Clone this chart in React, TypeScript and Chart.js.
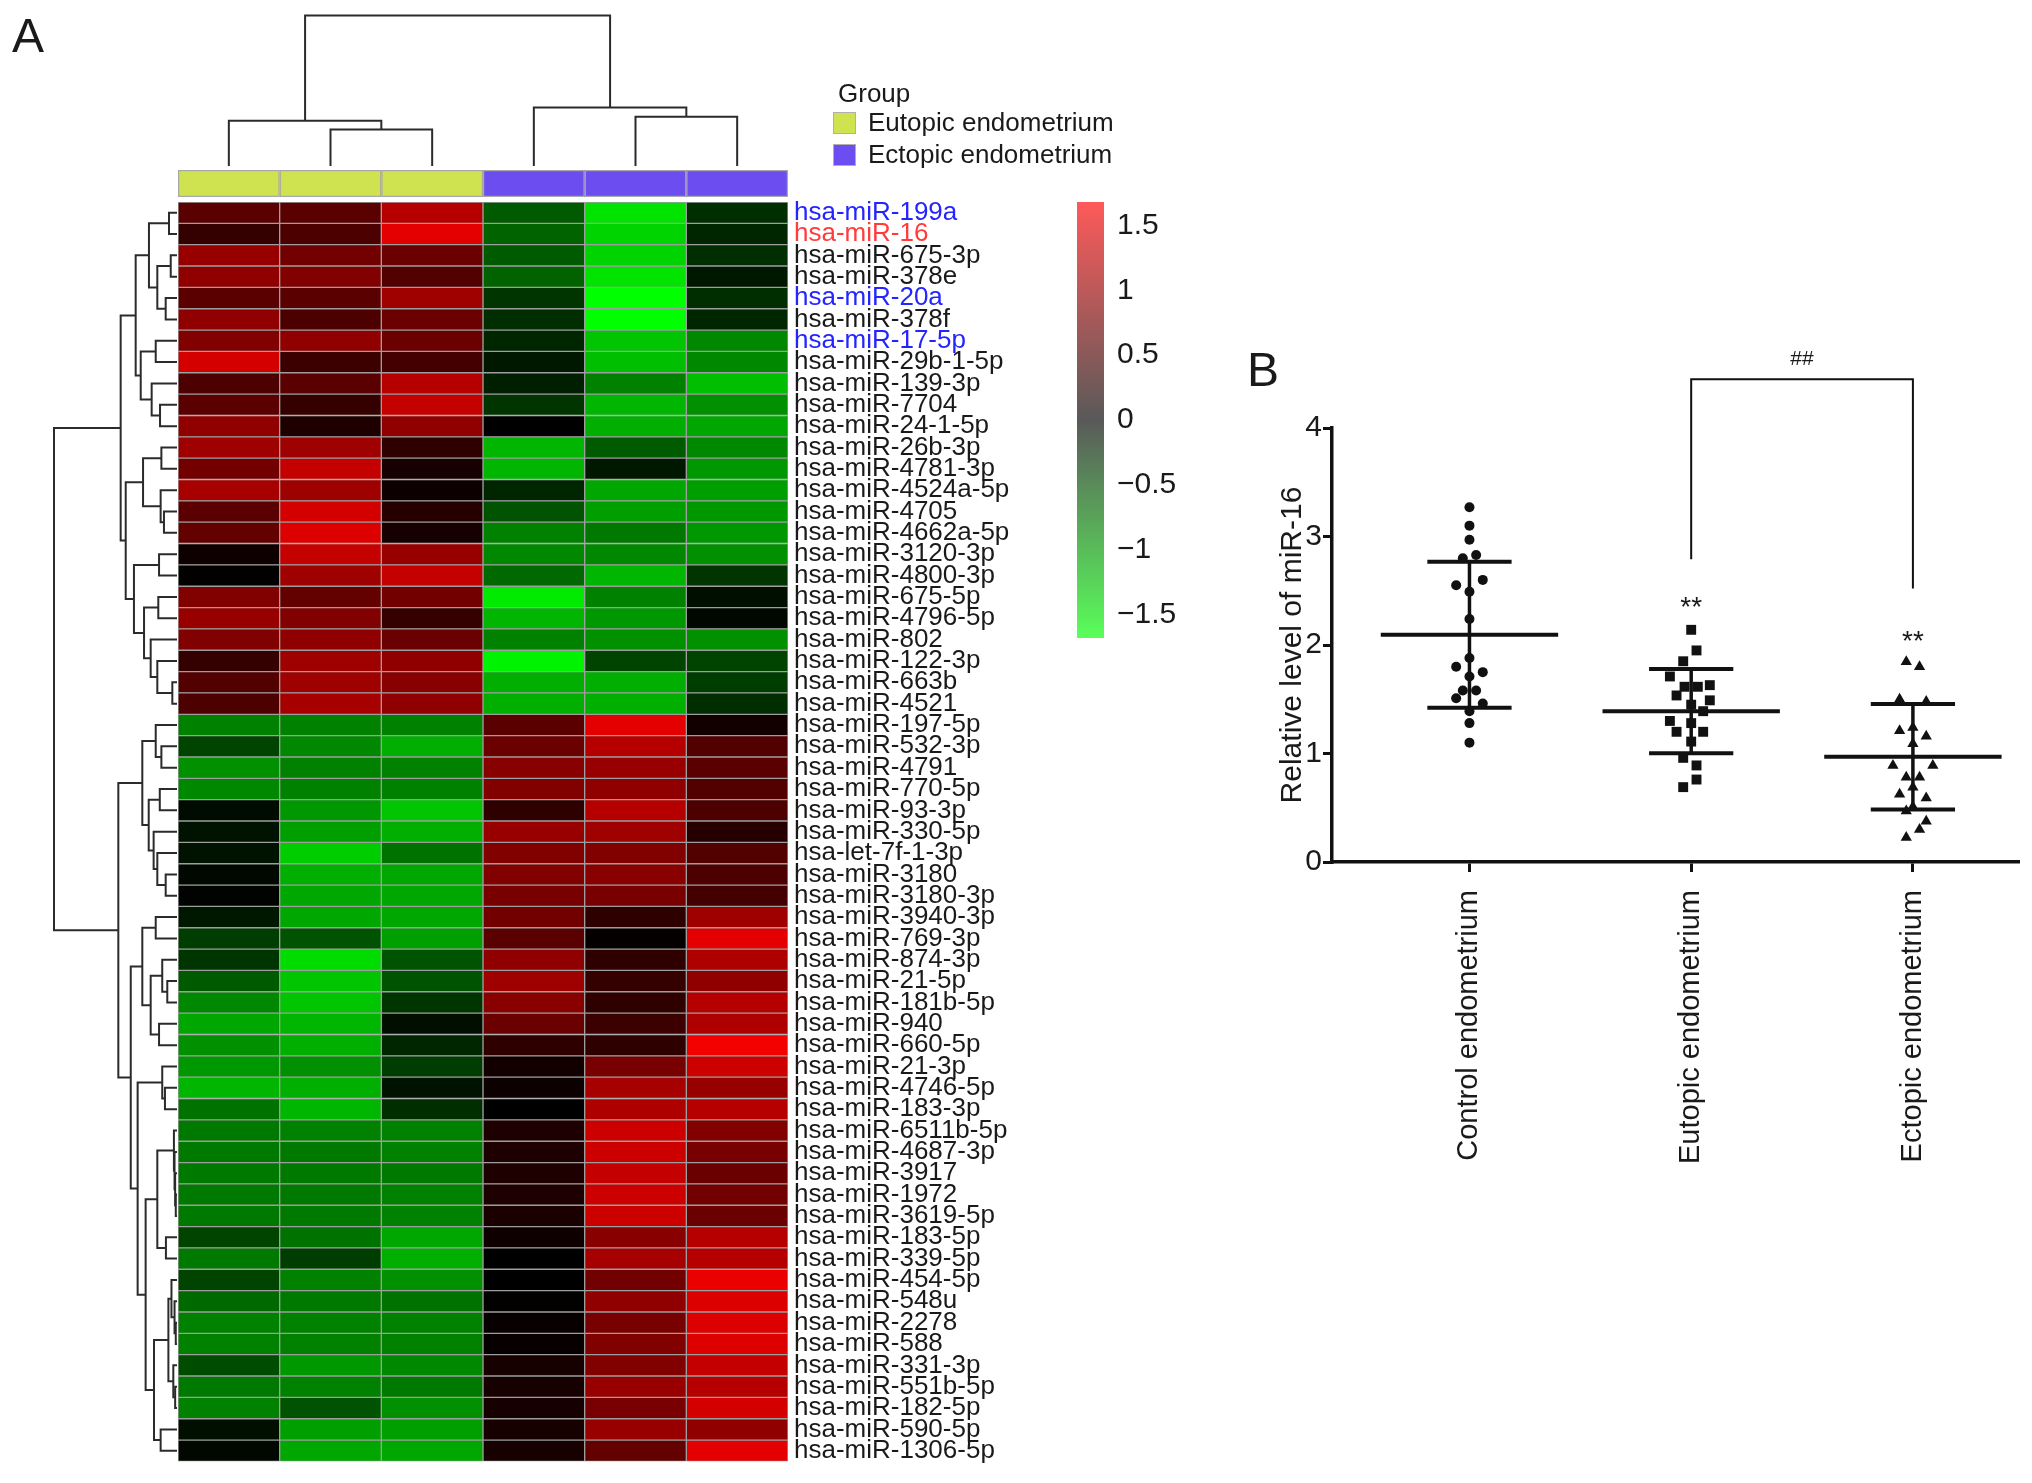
import React, { useEffect, useRef } from "react";
import { Chart, registerables } from "chart.js";

Chart.register(...registerables);

const FONT = "'Liberation Sans', Arial, Helvetica, sans-serif";
Chart.defaults.font.family = FONT;
Chart.defaults.color = "#1a1a1a";

// ---------------- Panel A data ----------------
const mirnaLabels = [
  "hsa-miR-199a", "hsa-miR-16", "hsa-miR-675-3p", "hsa-miR-378e", "hsa-miR-20a",
  "hsa-miR-378f", "hsa-miR-17-5p", "hsa-miR-29b-1-5p", "hsa-miR-139-3p", "hsa-miR-7704",
  "hsa-miR-24-1-5p", "hsa-miR-26b-3p", "hsa-miR-4781-3p", "hsa-miR-4524a-5p", "hsa-miR-4705",
  "hsa-miR-4662a-5p", "hsa-miR-3120-3p", "hsa-miR-4800-3p", "hsa-miR-675-5p", "hsa-miR-4796-5p",
  "hsa-miR-802", "hsa-miR-122-3p", "hsa-miR-663b", "hsa-miR-4521", "hsa-miR-197-5p",
  "hsa-miR-532-3p", "hsa-miR-4791", "hsa-miR-770-5p", "hsa-miR-93-3p", "hsa-miR-330-5p",
  "hsa-let-7f-1-3p", "hsa-miR-3180", "hsa-miR-3180-3p", "hsa-miR-3940-3p", "hsa-miR-769-3p",
  "hsa-miR-874-3p", "hsa-miR-21-5p", "hsa-miR-181b-5p", "hsa-miR-940", "hsa-miR-660-5p",
  "hsa-miR-21-3p", "hsa-miR-4746-5p", "hsa-miR-183-3p", "hsa-miR-6511b-5p", "hsa-miR-4687-3p",
  "hsa-miR-3917", "hsa-miR-1972", "hsa-miR-3619-5p", "hsa-miR-183-5p", "hsa-miR-339-5p",
  "hsa-miR-454-5p", "hsa-miR-548u", "hsa-miR-2278", "hsa-miR-588", "hsa-miR-331-3p",
  "hsa-miR-551b-5p", "hsa-miR-182-5p", "hsa-miR-590-5p", "hsa-miR-1306-5p",
];
const blueLabels = ["hsa-miR-199a", "hsa-miR-20a", "hsa-miR-17-5p"];
const redLabels = ["hsa-miR-16"];

const sampleGroups = [
  "Eutopic endometrium", "Eutopic endometrium", "Eutopic endometrium",
  "Ectopic endometrium", "Ectopic endometrium", "Ectopic endometrium",
];
const groupNames = ["Eutopic endometrium", "Ectopic endometrium"];

const heatmapValues = [
  [0.6, 0.6, 1.2, -0.6, -1.5, -0.3],
  [0.35, 0.5, 1.5, -0.65, -1.4, -0.25],
  [1.0, 0.75, 0.7, -0.6, -1.4, -0.3],
  [0.95, 0.85, 0.55, -0.65, -1.5, -0.15],
  [0.6, 0.6, 1.05, -0.35, -1.7, -0.3],
  [0.95, 0.5, 0.7, -0.3, -1.7, -0.25],
  [0.85, 0.95, 0.7, -0.25, -1.3, -0.9],
  [1.4, 0.4, 0.45, -0.15, -1.25, -0.9],
  [0.5, 0.6, 1.2, -0.2, -0.85, -1.25],
  [0.6, 0.35, 1.3, -0.35, -1.2, -0.95],
  [0.95, 0.2, 0.95, 0.0, -1.15, -1.1],
  [1.05, 1.05, 0.3, -1.2, -0.6, -0.9],
  [0.75, 1.3, 0.15, -1.2, -0.15, -1.0],
  [1.1, 1.05, 0.08, -0.25, -1.1, -1.05],
  [0.6, 1.4, 0.25, -0.55, -1.05, -1.0],
  [0.65, 1.45, 0.15, -0.85, -0.8, -1.0],
  [0.1, 1.3, 1.0, -0.9, -0.9, -0.95],
  [0.02, 1.05, 1.3, -0.7, -1.2, -0.35],
  [0.85, 0.65, 0.75, -1.55, -0.85, -0.1],
  [1.0, 0.85, 0.35, -1.2, -1.0, -0.05],
  [0.85, 0.95, 0.7, -0.85, -0.95, -0.95],
  [0.35, 1.05, 0.95, -1.6, -0.45, -0.45],
  [0.55, 1.05, 0.9, -1.15, -1.15, -0.4],
  [0.5, 1.1, 0.95, -1.15, -1.15, -0.3],
  [-0.85, -0.85, -0.85, 0.6, 1.5, 0.12],
  [-0.45, -0.9, -1.15, 0.7, 1.2, 0.55],
  [-0.95, -0.85, -0.85, 0.9, 1.0, 0.6],
  [-0.9, -0.85, -0.85, 0.85, 0.95, 0.55],
  [-0.08, -1.0, -1.3, 0.3, 1.2, 0.5],
  [-0.12, -1.05, -1.15, 1.0, 1.05, 0.25],
  [-0.12, -1.35, -0.75, 0.85, 0.85, 0.55],
  [-0.05, -1.15, -1.1, 0.85, 0.9, 0.5],
  [-0.02, -1.1, -1.1, 0.8, 0.8, 0.45],
  [-0.15, -1.1, -1.1, 0.75, 0.3, 1.05],
  [-0.4, -0.55, -1.05, 0.6, 0.03, 1.5],
  [-0.35, -1.45, -0.55, 0.95, 0.3, 1.15],
  [-0.6, -1.3, -0.55, 1.05, 0.35, 0.95],
  [-0.9, -1.3, -0.35, 0.9, 0.3, 1.2],
  [-1.1, -1.2, -0.1, 0.7, 0.4, 1.15],
  [-0.95, -1.15, -0.25, 0.3, 0.3, 1.6],
  [-1.0, -0.95, -0.4, 0.12, 0.8, 1.35],
  [-1.2, -1.15, -0.12, 0.08, 1.1, 1.0],
  [-0.75, -1.2, -0.3, 0.0, 1.15, 1.2],
  [-0.8, -0.85, -0.85, 0.2, 1.35, 0.85],
  [-0.8, -0.8, -0.85, 0.2, 1.35, 0.8],
  [-0.8, -0.8, -0.8, 0.2, 1.3, 0.7],
  [-0.8, -0.8, -0.85, 0.2, 1.35, 0.75],
  [-0.8, -0.8, -0.85, 0.18, 1.35, 0.7],
  [-0.45, -0.75, -1.1, 0.1, 0.9, 1.2],
  [-0.8, -0.4, -1.15, 0.0, 1.1, 1.2],
  [-0.45, -0.85, -0.95, 0.0, 0.75, 1.55],
  [-0.7, -0.8, -0.75, 0.02, 0.95, 1.45],
  [-0.85, -0.85, -0.85, 0.05, 0.8, 1.45],
  [-0.85, -0.85, -0.85, 0.05, 0.85, 1.45],
  [-0.5, -1.0, -0.9, 0.15, 0.85, 1.3],
  [-0.8, -0.85, -0.8, 0.15, 1.0, 1.2],
  [-0.85, -0.55, -0.95, 0.15, 0.8, 1.4],
  [-0.1, -1.05, -1.05, 0.15, 1.0, 0.95],
  [-0.05, -1.1, -1.1, 0.15, 0.65, 1.5],
];

const colorScaleRange = [-1.68, 1.68];
const colorbarTicks = [-1.5, -1, -0.5, 0, 0.5, 1, 1.5];

// dendrograms: [left, right, mergeHeight], leaves = column / row index
const colTree = [[0, [1, 2, 2.42], 3.0], [3, [4, 5, 3.28], 3.88], 10];
const rowTree = [
  [
    [
      [[0, 1, 0.65], [[2, 3, 0.51], [4, 5, 0.92], 1.6], 2.28],
      [[6, 7, 1.73], [8, [9, 10, 1.38], 2.06], 2.95],
      3.36,
    ],
    [
      [[11, 12, 1.27], [13, [14, 15, 1.06], 1.33], 2.76],
      [[16, 17, 1.46], [[18, 19, 1.52], [20, [21, [22, 23, 0.38], 1.6], 2.14], 2.68], 3.5],
      4.17,
    ],
    4.58,
  ],
  [
    [[24, [25, 26, 1.27], 1.73], [[27, 28, 1.4], [29, [30, [31, 32, 0.92], 1.6], 1.9], 2.3], 2.82],
    [
      [[33, 34, 1.73], [[35, [36, 37, 0.79], 1.2], [38, 39, 1.46], 2.14], 2.82],
      [
        [40, [41, 42, 0.98], 1.2],
        [
          [[43, [44, [45, [46, 47, 0.1], 0.15], 0.2], 0.25], [48, 49, 0.9], 1.6],
          [[[50, [51, [52, 53, 0.1], 0.2], 0.45], [54, [55, 56, 0.15], 0.3], 0.7], [57, 58, 1.33], 1.87],
          2.55,
        ],
        3.2,
      ],
      3.76,
    ],
    4.77,
  ],
  10,
];

// ---------------- Panel B data ----------------
const categoriesB = ["Control endometrium", "Eutopic endometrium", "Ectopic endometrium"];
const controlValues = [3.27, 3.10, 2.97, 2.83, 2.80, 2.60, 2.55, 2.49, 2.24, 1.88, 1.80, 1.75, 1.71, 1.58, 1.58, 1.51, 1.46, 1.39, 1.28, 1.10];
const controlJitter = [0, 0, 0, 0.03, -0.03, 0.06, -0.06, 0, 0, 0, -0.06, 0.06, 0, -0.03, 0.03, -0.06, 0.06, 0, 0, 0];
const eutopicValues = [2.14, 1.95, 1.85, 1.71, 1.63, 1.615, 1.615, 1.535, 1.49, 1.45, 1.39, 1.30, 1.28, 1.20, 1.20, 1.11, 0.96, 0.89, 0.76, 0.69];
const eutopicJitter = [0, 0.024, -0.036, -0.096, 0.084, -0.03, 0.03, -0.066, 0.084, 0, 0.054, -0.096, 0, -0.066, 0.054, 0, -0.036, 0.024, 0.024, -0.036];
const ectopicValues = [1.845, 1.80, 1.50, 1.48, 1.24, 1.21, 1.16, 1.09, 0.89, 0.89, 0.78, 0.78, 0.69, 0.625, 0.59, 0.51, 0.47, 0.375, 0.30, 0.225];
const ectopicJitter = [-0.03, 0.03, -0.06, 0.06, 0, -0.06, 0.06, 0, -0.09, 0.09, -0.03, 0.03, 0, -0.06, 0.06, 0, -0.03, 0.06, 0.03, -0.03];
const groupMeans = [2.095, 1.39, 0.97];
const groupSDs = [0.673, 0.388, 0.487];
const bracketLeft = [2, 2.79];
const bracketRight = [3, 2.52];
const bracketTop = 4.45;
const sigText = ["**", "**", "##"];
const sigX = [2, 3, 2.5];
const sigY = [2.41, 2.09, 4.65];
const yTicksB = [0, 1, 2, 3, 4];

// ---------------- styling helpers ----------------
const groupColors = ["#cfe24f", "#6c4ef0"];
const LIM = colorScaleRange[1];

function cellRGB(v: number): number[] {
  const t = Math.max(-1, Math.min(1, v / LIM));
  return t >= 0 ? [Math.round(255 * t), 0, 0] : [0, Math.round(-255 * t), 0];
}
function barRGB(v: number): number[] {
  return cellRGB(v).map((c) => Math.round(c * 0.65 + 255 * 0.35));
}
const rgb = (c: number[]) => `rgb(${c[0]},${c[1]},${c[2]})`;

function labelColor(i: number) {
  const l = mirnaLabels[i];
  if (blueLabels.includes(l)) return "#2424ff";
  if (redLabels.includes(l)) return "#ff3b3b";
  return "#1a1a1a";
}

function drawDendro(ctx: any, node: any, leafPos: (i: number) => number, hPix: (h: number) => number, rowMode: boolean) {
  const rec = (n: any): { p: number; h: number } => {
    if (typeof n === "number") return { p: leafPos(n), h: 0 };
    const a = rec(n[0]);
    const b = rec(n[1]);
    const h = n[2];
    const pts = [
      [a.p, hPix(a.h)],
      [a.p, hPix(h)],
      [b.p, hPix(h)],
      [b.p, hPix(b.h)],
    ];
    ctx.beginPath();
    pts.forEach(([p, q], i) => {
      const x = rowMode ? q : p;
      const y = rowMode ? p : q;
      if (i === 0) ctx.moveTo(x, y);
      else ctx.lineTo(x, y);
    });
    ctx.stroke();
    return { p: (a.p + b.p) / 2, h };
  };
  rec(node);
}

const heatmapDecor = {
  id: "heatmapDecor",
  afterDatasetsDraw(chart: any) {
    const { ctx, chartArea: ca } = chart;
    const xs = chart.scales.x;
    const ys = chart.scales.y;
    ctx.save();
    // group annotation bar
    const gTop = ca.top - 32;
    const gBot = ca.top - 5;
    sampleGroups.forEach((g, c) => {
      const x0 = xs.getPixelForValue(c);
      const x1 = xs.getPixelForValue(c + 1);
      ctx.fillStyle = groupColors[groupNames.indexOf(g)];
      ctx.fillRect(x0, gTop, x1 - x0, gBot - gTop);
      ctx.strokeStyle = "#a8a8a8";
      ctx.lineWidth = 1.2;
      ctx.strokeRect(x0 + 0.6, gTop + 0.6, x1 - x0 - 1.2, gBot - gTop - 1.2);
    });
    // dendrograms
    ctx.strokeStyle = "#2b2b2b";
    ctx.lineWidth = 2;
    ctx.lineJoin = "miter";
    drawDendro(ctx, rowTree, (i) => ys.getPixelForValue(i), (h) => ca.left - 1 - h * 12.3, true);
    drawDendro(ctx, colTree, (c) => xs.getPixelForValue(c + 0.5), (h) => ca.top - 36 - h * 15.05, false);
    // legend
    ctx.fillStyle = "#1a1a1a";
    ctx.font = `26px ${FONT}`;
    ctx.textBaseline = "middle";
    ctx.textAlign = "left";
    ctx.fillText("Group", 838, 95);
    groupNames.forEach((g, i) => {
      const y = i === 0 ? 123 : 155;
      ctx.fillStyle = groupColors[i];
      ctx.fillRect(833, y - 11, 23, 22);
      ctx.strokeStyle = "#b0b0b0";
      ctx.lineWidth = 1;
      ctx.strokeRect(833.5, y - 10.5, 22, 21);
      ctx.fillStyle = "#1a1a1a";
      ctx.fillText(g, 868, y + 1);
    });
    // panel letter
    ctx.font = `48px ${FONT}`;
    ctx.textBaseline = "alphabetic";
    ctx.fillText("A", 12, 52);
    ctx.restore();
  },
};

function heatmapConfig(): any {
  return {
    type: "bar",
    data: {
      labels: mirnaLabels,
      datasets: sampleGroups.map((g, c) => ({
        label: `${g} ${c + 1}`,
        data: heatmapValues.map(() => [c, c + 1]),
        backgroundColor: (ctx: any) => rgb(cellRGB(heatmapValues[ctx.dataIndex][c])),
        borderColor: "#9e9e9e",
        borderWidth: 1,
        borderSkipped: false,
        barPercentage: 1,
        categoryPercentage: 1,
        grouped: false,
      })),
    },
    options: {
      indexAxis: "y",
      responsive: false,
      animation: false,
      events: [],
      layout: { padding: { left: 178, top: 202, right: 210, bottom: 19 } },
      plugins: { legend: { display: false }, tooltip: { enabled: false } },
      scales: {
        x: { type: "linear", min: 0, max: 6, display: false },
        y: {
          type: "category",
          position: "right",
          offset: true,
          grid: { display: false, drawTicks: false },
          border: { display: false },
          ticks: {
            autoSkip: false,
            padding: 6,
            font: { size: 26, family: FONT },
            color: (c: any) => labelColor(c.index),
          },
          afterFit: (s: any) => {
            s.width = 242;
          },
        },
      },
    },
    plugins: [heatmapDecor],
  };
}

function colorbarConfig(): any {
  return {
    type: "bar",
    data: {
      labels: [""],
      datasets: [
        {
          data: [colorScaleRange],
          backgroundColor: (ctx: any) => {
            const ca = ctx.chart.chartArea;
            if (!ca) return "#888";
            const g = ctx.chart.ctx.createLinearGradient(0, ca.bottom, 0, ca.top);
            const n = 24;
            for (let i = 0; i <= n; i++) {
              const t = i / n;
              const v = colorScaleRange[0] + (colorScaleRange[1] - colorScaleRange[0]) * t;
              g.addColorStop(t, rgb(barRGB(v)));
            }
            return g;
          },
          borderWidth: 0,
          barPercentage: 1,
          categoryPercentage: 1,
        },
      ],
    },
    options: {
      responsive: false,
      animation: false,
      events: [],
      layout: { padding: { left: 37, top: 52, bottom: 52, right: 46 } },
      plugins: { legend: { display: false }, tooltip: { enabled: false } },
      scales: {
        x: { display: false },
        y: {
          type: "linear",
          position: "right",
          min: colorScaleRange[0],
          max: colorScaleRange[1],
          grid: { display: false, drawTicks: false },
          border: { display: false },
          afterBuildTicks: (s: any) => {
            s.ticks = colorbarTicks.map((v) => ({ value: v }));
          },
          ticks: {
            padding: 13,
            font: { size: 30, family: FONT },
            color: "#1a1a1a",
            callback: (v: any) => (v < 0 ? "\u2212" + Math.abs(v) : String(v)),
          },
          afterFit: (s: any) => {
            s.width = 150;
          },
        },
      },
    },
  };
}

const scatterDecor = {
  id: "scatterDecor",
  afterDatasetsDraw(chart: any) {
    const { ctx } = chart;
    const xs = chart.scales.x;
    const ys = chart.scales.y;
    ctx.save();
    ctx.fillStyle = "#1a1a1a";
    ctx.font = `48px ${FONT}`;
    ctx.textAlign = "left";
    ctx.textBaseline = "alphabetic";
    ctx.fillText("B", 47, 86);
    ctx.textAlign = "center";
    sigText.forEach((t, i) => {
      const isHash = t === "##";
      ctx.font = `${isHash ? 21 : 28}px ${FONT}`;
      ctx.fillText(t, xs.getPixelForValue(sigX[i]), ys.getPixelForValue(sigY[i]) + (isHash ? 8 : 15));
    });
    ctx.restore();
  },
};

function scatterConfig(): any {
  const MW = 0.4;
  const CW = 0.19;
  const seg = (pts: number[][], w: number) => ({
    data: pts.map(([x, y]) => ({ x, y })),
    showLine: true,
    borderColor: "#111",
    borderWidth: w,
    pointRadius: 0,
    fill: false,
    clip: false,
    tension: 0,
  });
  const groups = [
    { vals: controlValues, jit: controlJitter, style: "circle", r: 5 },
    { vals: eutopicValues, jit: eutopicJitter, style: "rect", r: 7 },
    { vals: ectopicValues, jit: ectopicJitter, style: "triangle", r: 6.5 },
  ];
  const pointSets = groups.map((g, gi) => ({
    data: g.vals.map((v, i) => ({ x: gi + 1 + g.jit[i], y: v })),
    showLine: false,
    pointStyle: g.style,
    pointRadius: g.r,
    backgroundColor: "#111",
    borderColor: "#111",
    borderWidth: 0,
  }));
  const lineSets: any[] = [];
  groupMeans.forEach((m, i) => {
    const x = i + 1;
    const s = groupSDs[i];
    lineSets.push(seg([[x - MW, m], [x + MW, m]], 4));
    lineSets.push(seg([[x, m - s], [x, m + s]], 3.5));
    lineSets.push(seg([[x - CW, m + s], [x + CW, m + s]], 4));
    lineSets.push(seg([[x - CW, m - s], [x + CW, m - s]], 4));
  });
  lineSets.push(
    seg(
      [
        [bracketLeft[0], bracketLeft[1]],
        [bracketLeft[0], bracketTop],
        [bracketRight[0], bracketTop],
        [bracketRight[0], bracketRight[1]],
      ],
      2
    )
  );
  return {
    type: "scatter",
    data: { datasets: [...pointSets, ...lineSets] },
    options: {
      responsive: false,
      animation: false,
      events: [],
      layout: { padding: { left: 75, right: 14, top: 128, bottom: 18 } },
      plugins: { legend: { display: false }, tooltip: { enabled: false } },
      scales: {
        x: {
          type: "linear",
          min: 0.38,
          max: 3.474,
          afterBuildTicks: (s: any) => {
            s.ticks = categoriesB.map((_, i) => ({ value: i + 1 }));
          },
          ticks: {
            autoSkip: false,
            minRotation: 90,
            maxRotation: 90,
            padding: 18,
            font: { size: 29, family: FONT },
            color: "#1a1a1a",
            callback: (v: any) => categoriesB[Math.round(v) - 1],
          },
          grid: { display: true, drawOnChartArea: false, drawTicks: true, tickLength: 10, color: "#111", lineWidth: 3 },
          border: { display: true, color: "#111", width: 3.5 },
          afterFit: (s: any) => {
            s.height = 320;
          },
        },
        y: {
          type: "linear",
          min: 0,
          max: 4,
          afterBuildTicks: (s: any) => {
            s.ticks = yTicksB.map((v) => ({ value: v }));
          },
          ticks: { font: { size: 30, family: FONT }, color: "#1a1a1a", padding: 1 },
          grid: { display: true, drawOnChartArea: false, drawTicks: true, tickLength: 9, color: "#111", lineWidth: 3 },
          border: { display: true, color: "#111", width: 3.5 },
          title: {
            display: true,
            text: "Relative level of miR-16",
            font: { size: 30, family: FONT },
            color: "#1a1a1a",
            padding: 0,
          },
          afterFit: (s: any) => {
            s.width = 57;
          },
        },
      },
    },
    plugins: [scatterDecor],
  };
}

export default function App() {
  const refA = useRef<HTMLCanvasElement>(null);
  const refCb = useRef<HTMLCanvasElement>(null);
  const refB = useRef<HTMLCanvasElement>(null);

  useEffect(() => {
    const charts: Chart[] = [];
    if (refA.current) charts.push(new Chart(refA.current, heatmapConfig()));
    if (refCb.current) charts.push(new Chart(refCb.current, colorbarConfig()));
    if (refB.current) charts.push(new Chart(refB.current, scatterConfig()));
    return () => charts.forEach((c) => c.destroy());
  }, []);

  return (
    <div style={{ position: "absolute", left: 0, top: 0, width: 2032, height: 1483, background: "#fff", overflow: "hidden" }}>
      <canvas ref={refA} width={1240} height={1483} style={{ position: "absolute", left: 0, top: 0, width: 1240, height: 1483 }} />
      <canvas ref={refCb} width={260} height={540} style={{ position: "absolute", left: 1040, top: 150, width: 260, height: 540 }} />
      <canvas ref={refB} width={832} height={900} style={{ position: "absolute", left: 1200, top: 300, width: 832, height: 900 }} />
    </div>
  );
}
